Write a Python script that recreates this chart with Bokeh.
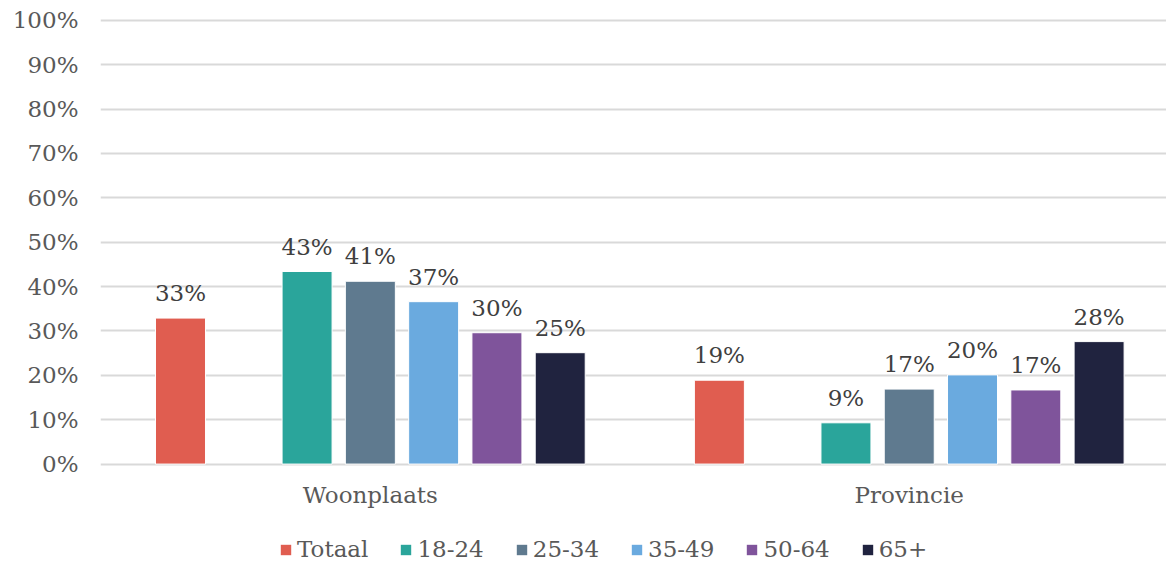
from bokeh.plotting import figure
from bokeh.layouts import column
from bokeh.models import ColumnDataSource, Range1d, FixedTicker, Legend, LegendItem, PrintfTickFormatter
from bokeh.core.properties import value
from bokeh.embed import file_html
from bokeh.resources import INLINE

groups = ["Woonplaats", "Provincie"]
series = ["Totaal", "18-24", "25-34", "35-49", "50-64", "65+"]
colors = ["#E05D50", "#2AA59B", "#5F7A8F", "#6AAADF", "#7F549B", "#20233F"]
woonplaats = [32.9, 43.4, 41.2, 36.6, 29.6, 25.1]
provincie = [18.9, 9.3, 16.9, 20.1, 16.7, 27.6]
y_ticks = [0, 10, 20, 30, 40, 50, 60, 70, 80, 90, 100]

# layout parameters (slot index per series within group, gap after Totaal)
slot = [0, 2, 3, 4, 5, 6]
group_step = 8.515
bar_w = 0.79
FONT = "DejaVu Serif"
FS = "23px"

p = figure(width=1166, height=520, output_backend="svg", toolbar_location=None,
           x_range=Range1d(-1.264, 15.58), y_range=Range1d(-1, 102),
           min_border_left=100, min_border_right=0, min_border_top=11, min_border_bottom=52)
p.outline_line_color = None
p.background_fill_color = "white"
p.border_fill_color = "white"

# legend strip (separate figure so that it sits below the axis)
lg = figure(width=1166, height=42, output_backend="svg", toolbar_location=None,
            x_axis_type=None, y_axis_type=None, x_range=Range1d(-100, -99), y_range=Range1d(-100, -99),
            min_border_left=0, min_border_right=0, min_border_top=0, min_border_bottom=0)
lg.outline_line_color = None
lg.grid.grid_line_color = None

values = [woonplaats, provincie]
items = []
for si, name in enumerate(series):
    xs = [g * group_step + slot[si] for g in range(len(groups))]
    ys = [values[g][si] for g in range(len(groups))]
    src = ColumnDataSource(dict(x=xs, top=ys, lab=[f"{v:.0f}%" for v in ys]))
    p.vbar(x="x", top="top", bottom=0, width=bar_w, source=src,
           fill_color=colors[si], line_color="white", line_width=1)
    p.text(x="x", y="top", text="lab", source=src, text_align="center",
           text_baseline="bottom", y_offset=-12, text_font=value(FONT),
           text_font_size=value(FS), text_color="#404040")
    r = lg.vbar(x="x", top="top", bottom=0, width=bar_w, source=src,
                fill_color=colors[si], line_color=None)
    items.append(LegendItem(label=name, renderers=[r]))

# x axis
p.xaxis.ticker = FixedTicker(ticks=[g * group_step + 3 for g in range(len(groups))])
p.xaxis.major_label_overrides = {g * group_step + 3: groups[g] for g in range(len(groups))}
p.xaxis.axis_line_color = None
p.xaxis.major_tick_line_color = None
p.xaxis.major_tick_out = 0
p.xaxis.minor_tick_line_color = None
p.xaxis.major_label_text_font = FONT
p.xaxis.major_label_text_font_size = FS
p.xaxis.major_label_text_color = "#595959"
p.xaxis.major_label_standoff = 13
p.xgrid.grid_line_color = None

# y axis
p.yaxis.ticker = FixedTicker(ticks=y_ticks)
p.yaxis.formatter = PrintfTickFormatter(format="%d%%")
p.yaxis.axis_line_color = None
p.yaxis.major_tick_line_color = None
p.yaxis.major_tick_out = 0
p.yaxis.minor_tick_line_color = None
p.yaxis.major_label_text_font = FONT
p.yaxis.major_label_text_font_size = FS
p.yaxis.major_label_text_color = "#595959"
p.yaxis.major_label_standoff = 22
p.ygrid.ticker = FixedTicker(ticks=y_ticks)
p.ygrid.grid_line_color = "#D9D9D9"
p.ygrid.grid_line_width = 2

legend = Legend(items=items, orientation="horizontal", location=(179, 0),
                label_text_font=FONT, label_text_font_size=FS,
                label_text_color="#595959", glyph_width=13, glyph_height=13,
                label_standoff=5, spacing=31, border_line_color=None,
                background_fill_alpha=0, margin=0, padding=2)
lg.add_layout(legend, "center")

open("out.html", "w").write(file_html(column(p, lg), INLINE))
